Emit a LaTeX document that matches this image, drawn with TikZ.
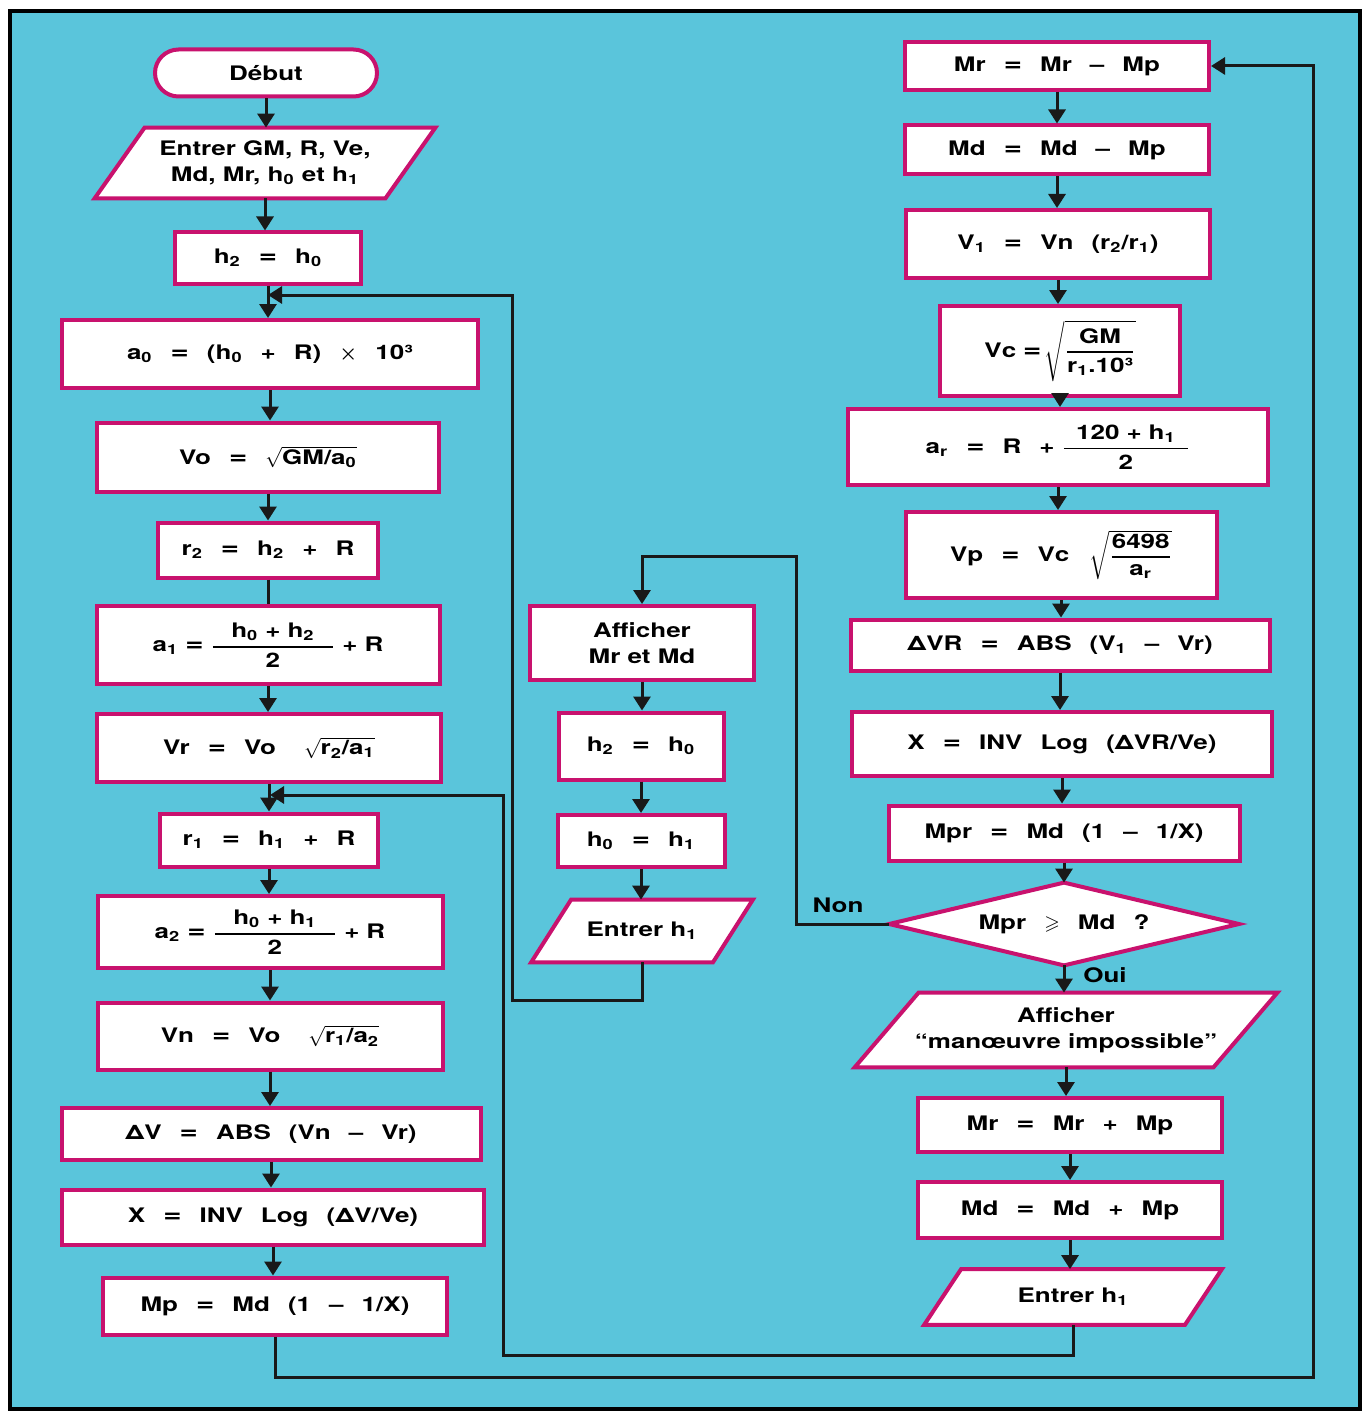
\documentclass[tikz,border=0pt]{standalone}
\usepackage{amsmath,amssymb}
\usepackage{fontspec}
\setmainfont[FakeStretch=1.3]{TeX Gyre Heros}
\newfontfamily\ff[FakeStretch=1.3,WordSpace=2.5]{TeX Gyre Heros}
\usetikzlibrary{arrows.meta}
\pgfdeclarelayer{bgl}
\pgfdeclarelayer{shp}
\pgfsetlayers{bgl,shp,main}
\definecolor{cyanbg}{RGB}{90,197,219}
\definecolor{mag}{RGB}{200,18,110}
\newcommand\tsp{\hspace{3.5pt}}
\newcommand\sub[1]{\textsubscript{#1}}
\newcommand\eqs{{\fontsize{12}{13}\selectfont =}}
\newcommand\para[2]{\begin{pgfonlayer}{shp}\path[shapeline] ([xshift=#2]#1.north west) -- (#1.north east) -- ([xshift=-#2]#1.south east) -- (#1.south west) -- cycle;\end{pgfonlayer}}
\newcommand\diam[1]{\begin{pgfonlayer}{shp}\path[shapeline] (#1.north) -- (#1.east) -- (#1.south) -- (#1.west) -- cycle;\end{pgfonlayer}}
\newcommand\dn[2]{\draw[arr] (#1.south) -- (#1.south |- #2.north);}
\tikzset{
  sz/.style 2 args={minimum width=#1, minimum height=#2},
  box/.style={draw=mag, fill=white, line width=2pt, inner sep=0pt, align=center,
    font=\ff\bfseries\fontsize{10}{13}\selectfont},
  txt/.style={inner sep=0pt, align=center, font=\bfseries\fontsize{10}{13}\selectfont},
  shapeline/.style={draw=mag, fill=white, line width=2pt, line join=miter},
  conn/.style={line width=1.5pt, draw=black!90},
  arr/.style={conn, -{Triangle[length=7pt,width=8.5pt]}},
  lbl/.style={font=\bfseries\fontsize{10}{12}\selectfont, inner sep=0pt}
}
\begin{document}
\begin{tikzpicture}[x=0.5pt,y=-0.5pt]
\useasboundingbox (0,0) rectangle (1364,1412);
\begin{pgfonlayer}{bgl}
\fill[white] (0,0) rectangle (1364,1412);
\draw[line width=1.6pt, fill=cyanbg] (10,11) rectangle (1360,1409);
\end{pgfonlayer}

% ---------- left column ----------
\node[box, sz={111pt}{23.5pt}, rounded corners=11.75pt] (deb) at (266,73) {Début};
\node[txt, sz={170pt}{35pt}] (in1) at (265,163) {Entrer GM, R, Ve,\\Md, Mr, h\sub{0} et h\sub{1}};
\para{in1}{25pt}
\node[box, sz={93pt}{25.5pt}] (h2a) at (268,258) {h\sub{2} \eqs{} h\sub{0}};
\node[box, sz={208pt}{34pt}] (a0) at (270,354) {a\sub{0} \eqs{} (h\sub{0} + R) $\boldsymbol{\times}$ 10³};
\node[box, sz={171pt}{34.5pt}] (vo) at (268,457) {Vo \eqs{} $\sqrt{\text{GM/a\sub{0}}}$};
\node[box, sz={110pt}{27.5pt}] (r2) at (268,550) {r\sub{2} \eqs{} h\sub{2} + R};
\node[box, sz={171.5pt}{39pt}] (a1) at (268,645) {a\sub{1}\tsp\eqs\tsp$\genfrac{}{}{0.9pt}{0}{\makebox[60pt]{h\sub{0}\tsp+\tsp h\sub{2}}}{\text{2}}$\tsp+\tsp R};
\node[box, sz={172pt}{34pt}] (vr) at (269,748) {Vr \eqs{} Vo\hspace{14pt}$\sqrt{\text{r\sub{2}/a\sub{1}}}$};
\node[box, sz={109pt}{26.5pt}] (r1) at (269,840) {r\sub{1} \eqs{} h\sub{1} + R};
\node[box, sz={172.5pt}{36pt}] (a2) at (270,932) {a\sub{2}\tsp\eqs\tsp$\genfrac{}{}{0.9pt}{0}{\makebox[60pt]{h\sub{0}\tsp+\tsp h\sub{1}}}{\text{2}}$\tsp+\tsp R};
\node[box, sz={172.5pt}{33.5pt}] (vn) at (270,1036) {Vn \eqs{} Vo\hspace{14pt}$\sqrt{\text{r\sub{1}/a\sub{2}}}$};
\node[box, sz={209.5pt}{26pt}] (dv) at (271,1134) {ΔV \eqs{} ABS (Vn – Vr)};
\node[box, sz={211pt}{27.5pt}] (xa) at (273,1217) {X \eqs{} INV Log (ΔV/Ve)};
\node[box, sz={172pt}{28.5pt}] (mp) at (275,1306) {Mp \eqs{} Md (1 – 1/X)};

% ---------- middle column ----------
\node[box, sz={112pt}{37pt}, font=\bfseries\fontsize{10}{13}\selectfont] (aff1) at (642,643) {Afficher\\Mr et Md};
\node[box, sz={82.5pt}{33.5pt}] (h2b) at (641,746) {h\sub{2} \eqs{} h\sub{0}};
\node[box, sz={83.5pt}{26pt}] (h0b) at (641,841) {h\sub{0} \eqs{} h\sub{1}};
\node[txt, sz={110.5pt}{31pt}] (in2) at (642,931) {Entrer h\sub{1}};
\para{in2}{20pt}

% ---------- right column ----------
\node[box, sz={152pt}{24pt}] (mr1) at (1057,66) {Mr \eqs{} Mr – Mp};
\node[box, sz={152pt}{24.5pt}] (md1) at (1057,150) {Md \eqs{} Md – Mp};
\node[box, sz={152pt}{34pt}] (v1) at (1058,244) {V\sub{1} \eqs{} Vn (r\sub{2}/r\sub{1})};
\node[box, sz={120pt}{45pt}] (vc) at (1060,351) {Vc\tsp\eqs\,$\sqrt{\genfrac{}{}{0.9pt}{0}{\text{GM}}{\text{r\sub{1}.10³}}}$};
\node[box, sz={210pt}{38pt}] (ar) at (1058,447) {a\sub{r} \eqs{} R +\tsp$\genfrac{}{}{0.9pt}{0}{\makebox[62pt]{120\tsp+\tsp h\sub{1}}}{\text{2}}$};
\node[box, sz={155.5pt}{43pt}] (vp) at (1061,555) {Vp \eqs{} Vc\hspace{10pt}$\sqrt{\genfrac{}{}{0.9pt}{0}{\text{6498}}{\text{a\sub{r}}}}$};
\node[box, sz={209.5pt}{25.5pt}] (dvr) at (1060,645) {ΔVR \eqs{} ABS (V\sub{1} – Vr)};
\node[box, sz={210pt}{32pt}] (xb) at (1062,744) {X \eqs{} INV Log (ΔVR/Ve)};
\node[box, sz={175.5pt}{27.5pt}] (mpr) at (1064,833) {Mpr \eqs{} Md (1 – 1/X)};
\node[txt, sz={174.5pt}{41pt}, font=\ff\bfseries\fontsize{10}{13}\selectfont] (dia) at (1064,924) {Mpr $\boldsymbol{\geqslant}$ Md ?};
\diam{dia}
\node[txt, sz={211pt}{37pt}] (aff2) at (1066,1030) {Afficher\\“manœuvre impossible”};
\para{aff2}{32pt}
\node[box, sz={152pt}{27pt}] (mr2) at (1070,1125) {Mr \eqs{} Mr + Mp};
\node[box, sz={152pt}{28pt}] (md2) at (1070,1210) {Md \eqs{} Md + Mp};
\node[txt, sz={148.5pt}{27.5pt}] (in3) at (1073,1297) {Entrer h\sub{1}};
\para{in3}{18.5pt}

% ---------- labels ----------
\node[lbl] (non) at (838,905) {Non};
\node[lbl] (oui) at (1105,975) {Oui};

% ---------- straight connectors ----------
\dn{deb}{in1}
\dn{in1}{h2a}
\dn{h2a}{a0}
\dn{a0}{vo}
\dn{vo}{r2}
\draw[conn] (r2.south) -- (r2.south |- a1.north);
\dn{a1}{vr}
\dn{vr}{r1}
\dn{r1}{a2}
\dn{a2}{vn}
\dn{vn}{dv}
\dn{dv}{xa}
\dn{xa}{mp}

\dn{aff1}{h2b}
\dn{h2b}{h0b}
\dn{h0b}{in2}

\dn{mr1}{md1}
\dn{md1}{v1}
\dn{v1}{vc}
\dn{vc}{ar}
\dn{ar}{vp}
\dn{vp}{dvr}
\dn{dvr}{xb}
\dn{xb}{mpr}
\dn{mpr}{dia}
\dn{dia}{aff2}
\dn{aff2}{mr2}
\dn{mr2}{md2}
\dn{md2}{in3}

% ---------- loops ----------
\coordinate (j1) at (268,295);
\coordinate (l1) at (512,1000);
\coordinate (j2) at (270,795);
\coordinate (l2) at (503,1355);
\coordinate (l3) at (1313,1377);
\coordinate (n1) at (796,556);
\draw[arr] (in2.south) |- (l1) |- (j1);
\draw[arr] (in3.south) |- (l2) |- (j2);
\draw[arr] (mp.south) |- (l3) |- (mr1.east);
\draw[arr] (dia.west) -| (n1) -| (aff1.north);
\end{tikzpicture}
\end{document}
